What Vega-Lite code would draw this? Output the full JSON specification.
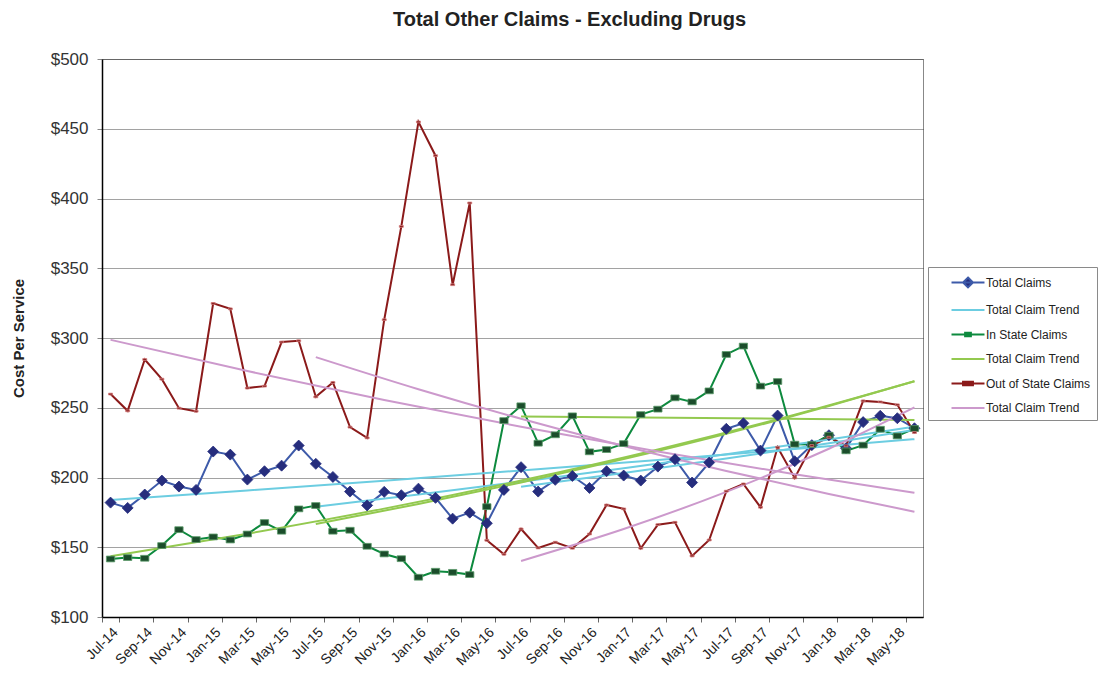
{
  "$schema": "https://vega.github.io/schema/vega-lite/v6.json",
  "width": 821,
  "height": 558,
  "autosize": {"type": "none"},
  "padding": {"left": 102, "top": 59, "right": 178, "bottom": 56},
  "background": "white",
  "title": {"text": "Total Other Claims - Excluding Drugs", "fontSize": 20, "font": "Liberation Sans", "fontWeight": "bold", "color": "#222", "anchor": "middle", "dx": 57, "offset": 20},
  "config": {
    "font": "Liberation Sans",
    "view": {"stroke": "#888"},
    "axis": {"labelFont": "Liberation Sans", "titleFont": "Liberation Sans"}
  },
  "datasets": {
    "main": [
      {"m": "Jul-14", "Total Claims": 182.0, "In State Claims": 141.6, "Out of State Claims": 259.8},
      {"m": "Aug-14", "Total Claims": 178.2, "In State Claims": 142.6, "Out of State Claims": 247.8},
      {"m": "Sep-14", "Total Claims": 187.8, "In State Claims": 142.1, "Out of State Claims": 284.6},
      {"m": "Oct-14", "Total Claims": 197.8, "In State Claims": 151.2, "Out of State Claims": 270.5},
      {"m": "Nov-14", "Total Claims": 193.5, "In State Claims": 162.6, "Out of State Claims": 249.7},
      {"m": "Dec-14", "Total Claims": 191.1, "In State Claims": 155.5, "Out of State Claims": 247.5},
      {"m": "Jan-15", "Total Claims": 218.6, "In State Claims": 157.4, "Out of State Claims": 324.8},
      {"m": "Feb-15", "Total Claims": 216.4, "In State Claims": 155.2, "Out of State Claims": 320.9},
      {"m": "Mar-15", "Total Claims": 198.5, "In State Claims": 159.5, "Out of State Claims": 264.1},
      {"m": "Apr-15", "Total Claims": 204.5, "In State Claims": 167.7, "Out of State Claims": 265.5},
      {"m": "May-15", "Total Claims": 208.5, "In State Claims": 161.5, "Out of State Claims": 297.1},
      {"m": "Jun-15", "Total Claims": 222.9, "In State Claims": 177.5, "Out of State Claims": 298.0},
      {"m": "Jul-15", "Total Claims": 209.8, "In State Claims": 179.9, "Out of State Claims": 257.8},
      {"m": "Aug-15", "Total Claims": 200.4, "In State Claims": 161.5, "Out of State Claims": 268.1},
      {"m": "Sep-15", "Total Claims": 189.9, "In State Claims": 162.2, "Out of State Claims": 236.1},
      {"m": "Oct-15", "Total Claims": 180.0, "In State Claims": 150.7, "Out of State Claims": 228.4},
      {"m": "Nov-15", "Total Claims": 189.7, "In State Claims": 145.2, "Out of State Claims": 313.1},
      {"m": "Dec-15", "Total Claims": 187.3, "In State Claims": 141.8, "Out of State Claims": 380.0},
      {"m": "Jan-16", "Total Claims": 192.0, "In State Claims": 128.5, "Out of State Claims": 454.9},
      {"m": "Feb-16", "Total Claims": 185.4, "In State Claims": 132.8, "Out of State Claims": 430.7},
      {"m": "Mar-16", "Total Claims": 170.5, "In State Claims": 132.0, "Out of State Claims": 338.2},
      {"m": "Apr-16", "Total Claims": 174.8, "In State Claims": 130.4, "Out of State Claims": 396.8},
      {"m": "May-16", "Total Claims": 167.2, "In State Claims": 179.1, "Out of State Claims": 155.0},
      {"m": "Jun-16", "Total Claims": 191.1, "In State Claims": 240.8, "Out of State Claims": 145.0},
      {"m": "Jul-16", "Total Claims": 207.4, "In State Claims": 251.4, "Out of State Claims": 163.1},
      {"m": "Aug-16", "Total Claims": 189.9, "In State Claims": 224.6, "Out of State Claims": 149.5},
      {"m": "Sep-16", "Total Claims": 198.3, "In State Claims": 230.6, "Out of State Claims": 153.6},
      {"m": "Oct-16", "Total Claims": 201.1, "In State Claims": 244.2, "Out of State Claims": 149.3},
      {"m": "Nov-16", "Total Claims": 192.5, "In State Claims": 218.4, "Out of State Claims": 159.5},
      {"m": "Dec-16", "Total Claims": 204.5, "In State Claims": 220.0, "Out of State Claims": 180.3},
      {"m": "Jan-17", "Total Claims": 201.4, "In State Claims": 224.3, "Out of State Claims": 177.5},
      {"m": "Feb-17", "Total Claims": 197.8, "In State Claims": 245.1, "Out of State Claims": 149.3},
      {"m": "Mar-17", "Total Claims": 207.8, "In State Claims": 249.0, "Out of State Claims": 166.2},
      {"m": "Apr-17", "Total Claims": 213.1, "In State Claims": 257.1, "Out of State Claims": 167.9},
      {"m": "May-17", "Total Claims": 196.4, "In State Claims": 254.2, "Out of State Claims": 143.8},
      {"m": "Jun-17", "Total Claims": 210.7, "In State Claims": 262.1, "Out of State Claims": 155.2},
      {"m": "Jul-17", "Total Claims": 234.9, "In State Claims": 288.2, "Out of State Claims": 190.2},
      {"m": "Aug-17", "Total Claims": 238.9, "In State Claims": 294.2, "Out of State Claims": 195.4},
      {"m": "Sep-17", "Total Claims": 219.3, "In State Claims": 265.5, "Out of State Claims": 178.7},
      {"m": "Oct-17", "Total Claims": 244.4, "In State Claims": 268.8, "Out of State Claims": 221.7},
      {"m": "Nov-17", "Total Claims": 211.7, "In State Claims": 223.9, "Out of State Claims": 199.7},
      {"m": "Dec-17", "Total Claims": 223.2, "In State Claims": 223.6, "Out of State Claims": 222.9},
      {"m": "Jan-18", "Total Claims": 230.3, "In State Claims": 230.3, "Out of State Claims": 228.9},
      {"m": "Feb-18", "Total Claims": 221.0, "In State Claims": 219.1, "Out of State Claims": 222.7},
      {"m": "Mar-18", "Total Claims": 239.7, "In State Claims": 223.2, "Out of State Claims": 254.9},
      {"m": "Apr-18", "Total Claims": 244.2, "In State Claims": 234.6, "Out of State Claims": 254.2},
      {"m": "May-18", "Total Claims": 242.5, "In State Claims": 229.8, "Out of State Claims": 252.1},
      {"m": "Jun-18", "Total Claims": 235.3, "In State Claims": 235.1, "Out of State Claims": 232.2}
    ],
    "trends": [
      {"g": "C1", "s": "Trend C", "m": "Jul-14", "v": 183.9},
      {"g": "C1", "s": "Trend C", "m": "Mar-15", "v": 190.7},
      {"g": "C1", "s": "Trend C", "m": "Nov-15", "v": 197.7},
      {"g": "C1", "s": "Trend C", "m": "Jul-16", "v": 205.0},
      {"g": "C1", "s": "Trend C", "m": "Mar-17", "v": 212.6},
      {"g": "C1", "s": "Trend C", "m": "Nov-17", "v": 220.5},
      {"g": "C1", "s": "Trend C", "m": "Jun-18", "v": 227.5},
      {"g": "C2", "s": "Trend C", "m": "Jul-15", "v": 179.1},
      {"g": "C2", "s": "Trend C", "m": "Jan-16", "v": 187.8},
      {"g": "C2", "s": "Trend C", "m": "Jul-16", "v": 197.0},
      {"g": "C2", "s": "Trend C", "m": "Jan-17", "v": 206.6},
      {"g": "C2", "s": "Trend C", "m": "Jul-17", "v": 216.7},
      {"g": "C2", "s": "Trend C", "m": "Jan-18", "v": 227.3},
      {"g": "C2", "s": "Trend C", "m": "Jun-18", "v": 236.5},
      {"g": "C3", "s": "Trend C", "m": "Jul-16", "v": 193.3},
      {"g": "C3", "s": "Trend C", "m": "Jan-17", "v": 203.2},
      {"g": "C3", "s": "Trend C", "m": "Jul-17", "v": 213.6},
      {"g": "C3", "s": "Trend C", "m": "Jan-18", "v": 224.5},
      {"g": "C3", "s": "Trend C", "m": "Jun-18", "v": 234.1},
      {"g": "G1", "s": "Trend G", "m": "Jul-14", "v": 143.5},
      {"g": "G1", "s": "Trend G", "m": "Mar-15", "v": 159.7},
      {"g": "G1", "s": "Trend G", "m": "Nov-15", "v": 177.7},
      {"g": "G1", "s": "Trend G", "m": "Jul-16", "v": 197.8},
      {"g": "G1", "s": "Trend G", "m": "Mar-17", "v": 220.1},
      {"g": "G1", "s": "Trend G", "m": "Nov-17", "v": 245.0},
      {"g": "G1", "s": "Trend G", "m": "Jun-18", "v": 269.0},
      {"g": "G2", "s": "Trend G", "m": "Jul-15", "v": 166.7},
      {"g": "G2", "s": "Trend G", "m": "Jan-16", "v": 181.0},
      {"g": "G2", "s": "Trend G", "m": "Jul-16", "v": 196.4},
      {"g": "G2", "s": "Trend G", "m": "Jan-17", "v": 213.2},
      {"g": "G2", "s": "Trend G", "m": "Jul-17", "v": 231.4},
      {"g": "G2", "s": "Trend G", "m": "Jan-18", "v": 251.2},
      {"g": "G2", "s": "Trend G", "m": "Jun-18", "v": 269.0},
      {"g": "G3", "s": "Trend G", "m": "Jul-16", "v": 243.7},
      {"g": "G3", "s": "Trend G", "m": "Jun-18", "v": 241.3},
      {"g": "P1", "s": "Trend P", "m": "Jul-14", "v": 298.7},
      {"g": "P1", "s": "Trend P", "m": "Mar-15", "v": 276.3},
      {"g": "P1", "s": "Trend P", "m": "Nov-15", "v": 255.6},
      {"g": "P1", "s": "Trend P", "m": "Jul-16", "v": 236.4},
      {"g": "P1", "s": "Trend P", "m": "Mar-17", "v": 218.7},
      {"g": "P1", "s": "Trend P", "m": "Nov-17", "v": 202.3},
      {"g": "P1", "s": "Trend P", "m": "Jun-18", "v": 189.0},
      {"g": "P2", "s": "Trend P", "m": "Jul-15", "v": 286.3},
      {"g": "P2", "s": "Trend P", "m": "Jan-16", "v": 263.3},
      {"g": "P2", "s": "Trend P", "m": "Jul-16", "v": 242.1},
      {"g": "P2", "s": "Trend P", "m": "Jan-17", "v": 222.6},
      {"g": "P2", "s": "Trend P", "m": "Jul-17", "v": 204.7},
      {"g": "P2", "s": "Trend P", "m": "Jan-18", "v": 188.2},
      {"g": "P2", "s": "Trend P", "m": "Jun-18", "v": 175.5},
      {"g": "P3", "s": "Trend P", "m": "Jul-16", "v": 140.2},
      {"g": "P3", "s": "Trend P", "m": "Jan-17", "v": 163.1},
      {"g": "P3", "s": "Trend P", "m": "Jul-17", "v": 189.7},
      {"g": "P3", "s": "Trend P", "m": "Jan-18", "v": 220.6},
      {"g": "P3", "s": "Trend P", "m": "Jun-18", "v": 250.2}
    ]
  },
  "encoding": {
    "x": {
      "field": "m",
      "type": "ordinal",
      "bandPosition": 0.5,
      "scale": {
        "type": "band",
        "paddingInner": 0,
        "paddingOuter": 0,
        "domain": ["Jul-14","Aug-14","Sep-14","Oct-14","Nov-14","Dec-14","Jan-15","Feb-15","Mar-15","Apr-15","May-15","Jun-15","Jul-15","Aug-15","Sep-15","Oct-15","Nov-15","Dec-15","Jan-16","Feb-16","Mar-16","Apr-16","May-16","Jun-16","Jul-16","Aug-16","Sep-16","Oct-16","Nov-16","Dec-16","Jan-17","Feb-17","Mar-17","Apr-17","May-17","Jun-17","Jul-17","Aug-17","Sep-17","Oct-17","Nov-17","Dec-17","Jan-18","Feb-18","Mar-18","Apr-18","May-18","Jun-18"]
      },
      "axis": {
        "title": null,
        "values": ["Jul-14","Sep-14","Nov-14","Jan-15","Mar-15","May-15","Jul-15","Sep-15","Nov-15","Jan-16","Mar-16","May-16","Jul-16","Sep-16","Nov-16","Jan-17","Mar-17","May-17","Jul-17","Sep-17","Nov-17","Jan-18","Mar-18","May-18"],
        "labelAngle": -45,
        "labelAlign": "right",
        "labelBaseline": "top",
        "labelFontSize": 14,
        "labelColor": "#222",
        "labelPadding": 3,
        "tickBand": "extent",
        "tickColor": "#666",
        "tickSize": 5,
        "domainColor": "#000",
        "domainWidth": 1.5,
        "grid": false
      }
    },
    "y": {
      "field": "v",
      "type": "quantitative",
      "scale": {"domain": [100, 500], "nice": false, "zero": false},
      "axis": {
        "title": "Cost Per Service",
        "values": [100, 150, 200, 250, 300, 350, 400, 450, 500],
        "format": "$.0f",
        "labelFontSize": 17,
        "labelColor": "#333",
        "labelPadding": 9,
        "tickSize": 5,
        "tickColor": "#888",
        "domainColor": "#000",
        "domainWidth": 1.5,
        "grid": true,
        "gridColor": "#444",
        "gridDash": [1, 1],
        "gridWidth": 1,
        "titleFontSize": 15,
        "titleFontWeight": "bold",
        "titleColor": "#222",
        "titleX": -84,
        "titleY": 279,
        "titleAngle": -90,
        "titleAlign": "center",
        "titleBaseline": "middle"
      }
    }
  },
  "layer": [
    {
      "data": {"name": "main"},
      "transform": [{"fold": ["Total Claims", "In State Claims", "Out of State Claims"], "as": ["s", "v"]}],
      "mark": {"type": "line", "strokeWidth": 2},
      "encoding": {
        "color": {
          "field": "s",
          "type": "nominal",
          "scale": {
            "domain": ["Total Claims", "Trend C", "In State Claims", "Trend G", "Out of State Claims", "Trend P"],
            "range": ["#3d5aa9", "#6ccde1", "#0d8a3e", "#93c94f", "#8b1a1a", "#cc99cc"]
          },
          "legend": {
            "title": null,
            "orient": "none",
            "legendX": 826,
            "legendY": 208,
            "padding": 6,
            "strokeColor": "#8a8a8a",
            "fillColor": "white",
            "labelFont": "Liberation Sans",
            "labelFontSize": 12,
            "labelColor": "#222",
            "labelExpr": "indexof(datum.label, 'Trend') === 0 ? 'Total Claim Trend' : datum.label",
            "symbolSize": 272,
            "symbolStrokeWidth": 2,
            "symbolOffset": 24.5,
            "labelOffset": 8.5,
            "rowPadding": 8.5,
            "encode": {
              "symbols": {
                "update": {
                  "shape": {"signal": "datum.value === 'Total Claims' ? 'M-2,0H2M0,-0.6L0.6,0L0,0.6L-0.6,0Z' : datum.value === 'In State Claims' ? 'M-2,0H2M-0.35,-0.2H0.35V0.2H-0.35Z' : datum.value === 'Out of State Claims' ? 'M-2,0H2M-0.6,-0.2H0.6V0.2H-0.6Z' : 'M-2,0H2'"},
                  "fill": {"signal": "datum.value === 'Total Claims' ? '#262d7d' : datum.value === 'In State Claims' ? '#1b4d2b' : datum.value === 'Out of State Claims' ? '#6e1010' : 'transparent'"}
                }
              }
            }
          }
        }
      }
    },
    {
      "data": {"name": "trends"},
      "mark": {"type": "line", "strokeWidth": 2, "interpolate": "monotone"},
      "encoding": {
        "color": {"field": "s", "type": "nominal"},
        "detail": {"field": "g"}
      }
    },
    {
      "data": {"name": "main"},
      "transform": [{"fold": ["Total Claims", "In State Claims", "Out of State Claims"], "as": ["s", "v"]}],
      "mark": {"type": "point", "filled": true, "strokeWidth": 0.8, "opacity": 1},
      "encoding": {
        "shape": {
          "field": "s",
          "type": "nominal",
          "scale": {"domain": ["Total Claims", "In State Claims", "Out of State Claims"], "range": ["diamond", "M-1,-0.7H1V0.7H-1Z", "M-1,-0.45H1V0.45H-1Z"]},
          "legend": null
        },
        "size": {
          "field": "s",
          "type": "nominal",
          "scale": {"domain": ["Total Claims", "In State Claims", "Out of State Claims"], "range": [121, 16, 81]},
          "legend": null
        },
        "fill": {
          "field": "s",
          "type": "nominal",
          "scale": {"domain": ["Total Claims", "In State Claims", "Out of State Claims"], "range": ["#262d7d", "#1b4d2b", "#7a1414"]},
          "legend": null
        },
        "stroke": {
          "field": "s",
          "type": "nominal",
          "scale": {"domain": ["Total Claims", "In State Claims", "Out of State Claims"], "range": ["#262d7d", "#5a9a6a", "#d88080"]},
          "legend": null
        }
      }
    }
  ]
}
